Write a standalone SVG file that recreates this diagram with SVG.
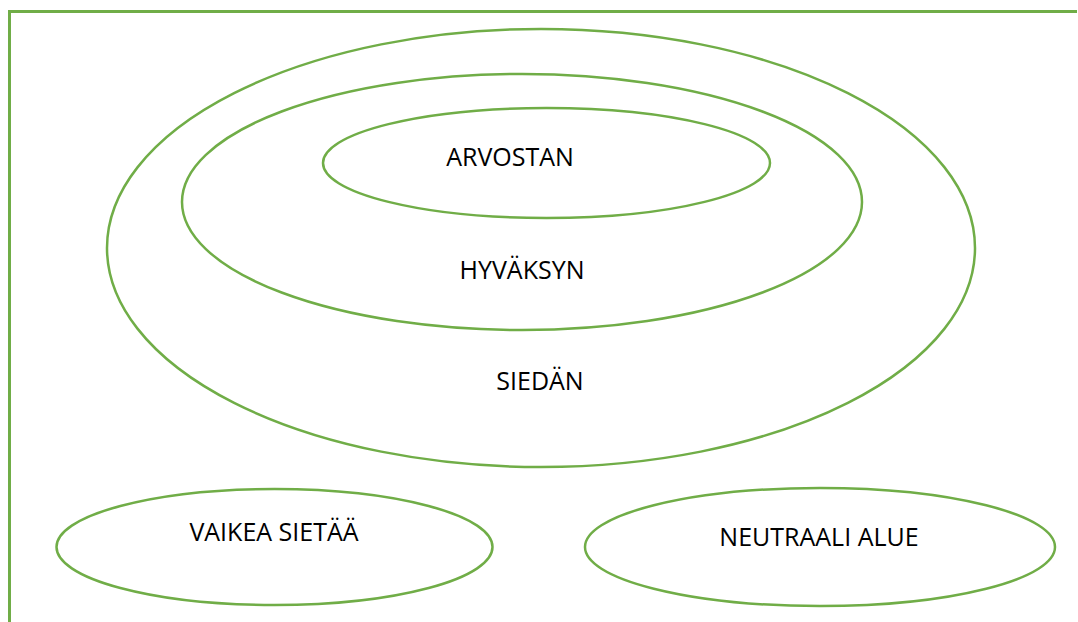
<svg xmlns="http://www.w3.org/2000/svg" width="1078" height="622" viewBox="0 0 1078 622">
<style>
.e{fill:none;stroke:#70AD47;stroke-width:2.5}
.f{fill:none;stroke:#70AD47;stroke-width:3}
.t{font-family:"Open Sans","Liberation Sans",sans-serif;font-size:25px;fill:#000;text-anchor:middle}
</style>
<rect width="1078" height="622" fill="#fff"/>
<g id="frame"><polyline class="f" points="9.5,622 9.5,11.5 1077,11.5"/></g>
<g id="siedan"><ellipse class="e" cx="541" cy="248" rx="434" ry="219"/><text class="t" x="540" y="390">SIEDÄN</text></g>
<g id="hyvaksyn"><ellipse class="e" cx="522" cy="202" rx="340" ry="128"/><text class="t" x="522" y="279">HYVÄKSYN</text></g>
<g id="arvostan"><ellipse class="e" cx="546.5" cy="163" rx="223.5" ry="55"/><text class="t" x="510" y="166">ARVOSTAN</text></g>
<g id="vaikea"><ellipse class="e" cx="274.5" cy="547" rx="218" ry="58"/><text class="t" x="274" y="541">VAIKEA SIETÄÄ</text></g>
<g id="neutraali"><ellipse class="e" cx="820" cy="547" rx="235" ry="59"/><text class="t" x="819" y="546">NEUTRAALI ALUE</text></g>
<g id="connectors"/>
</svg>
